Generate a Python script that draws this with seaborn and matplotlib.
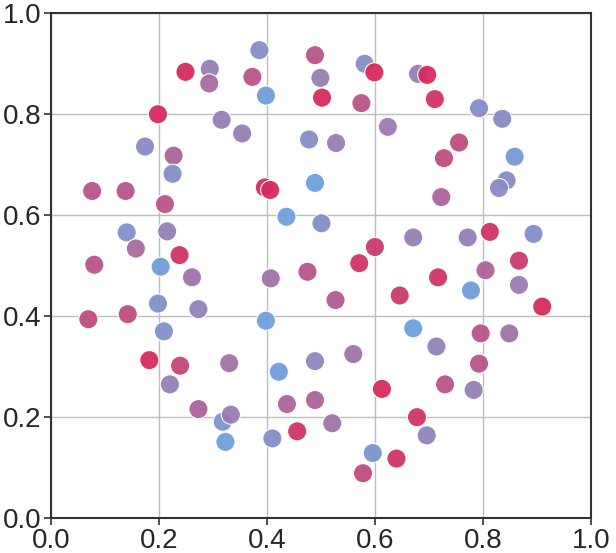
import matplotlib
matplotlib.use("Agg")
import matplotlib.pyplot as plt
from matplotlib.colors import LinearSegmentedColormap
import seaborn as sns
import pandas as pd

# point positions
x = [0.386, 0.489, 0.249, 0.294, 0.293, 0.373, 0.499, 0.398, 0.502, 0.198,
     0.316, 0.354, 0.478, 0.528, 0.174, 0.227, 0.225, 0.076, 0.138, 0.396,
     0.406, 0.489, 0.211, 0.436, 0.501, 0.140, 0.215, 0.157, 0.238, 0.080,
     0.203, 0.261, 0.475, 0.581, 0.599, 0.680, 0.697, 0.575, 0.711, 0.793,
     0.836, 0.624, 0.756, 0.728, 0.859, 0.844, 0.830, 0.723, 0.671, 0.772,
     0.813, 0.894, 0.600, 0.571, 0.867, 0.805, 0.717, 0.867, 0.778, 0.527,
     0.646, 0.910, 0.671, 0.796, 0.849, 0.714, 0.489, 0.560, 0.793, 0.613,
     0.730, 0.783, 0.489, 0.678, 0.521, 0.696, 0.596, 0.640, 0.578, 0.407,
     0.198, 0.273, 0.069, 0.142, 0.398, 0.209, 0.182, 0.239, 0.330, 0.422,
     0.220, 0.437, 0.273, 0.318, 0.333, 0.456, 0.323, 0.410]
y = [0.927, 0.917, 0.884, 0.890, 0.861, 0.874, 0.872, 0.837, 0.833, 0.800,
     0.789, 0.762, 0.750, 0.743, 0.736, 0.718, 0.682, 0.648, 0.648, 0.655,
     0.650, 0.664, 0.622, 0.597, 0.584, 0.566, 0.568, 0.534, 0.521, 0.502,
     0.498, 0.477, 0.488, 0.900, 0.883, 0.880, 0.878, 0.822, 0.830, 0.812,
     0.791, 0.775, 0.744, 0.713, 0.716, 0.669, 0.654, 0.636, 0.556, 0.556,
     0.567, 0.563, 0.537, 0.505, 0.510, 0.491, 0.477, 0.462, 0.451, 0.432,
     0.441, 0.419, 0.376, 0.366, 0.366, 0.340, 0.311, 0.325, 0.306, 0.256,
     0.265, 0.254, 0.234, 0.200, 0.188, 0.164, 0.129, 0.118, 0.089, 0.475,
     0.425, 0.414, 0.394, 0.404, 0.391, 0.370, 0.313, 0.302, 0.307, 0.290,
     0.265, 0.226, 0.216, 0.191, 0.205, 0.172, 0.151, 0.158]
# colour value per point, 0 = blue, 1 = red
c = [0.25, 0.75, 1.00, 0.45, 0.60, 0.75, 0.45, 0.05, 1.00, 1.00,
     0.45, 0.45, 0.25, 0.45, 0.30, 0.65, 0.25, 0.75, 0.75, 1.00,
     1.00, 0.00, 0.75, 0.00, 0.25, 0.20, 0.45, 0.60, 0.95, 0.75,
     0.05, 0.55, 0.75, 0.25, 1.00, 0.45, 1.00, 0.75, 0.95, 0.25,
     0.30, 0.50, 0.80, 0.80, 0.10, 0.30, 0.30, 0.65, 0.45, 0.45,
     0.95, 0.25, 0.90, 0.95, 0.90, 0.65, 0.95, 0.50, 0.05, 0.70,
     0.90, 1.00, 0.00, 0.75, 0.55, 0.40, 0.35, 0.55, 0.75, 1.00,
     0.75, 0.45, 0.65, 0.95, 0.55, 0.40, 0.15, 0.95, 0.80, 0.55,
     0.20, 0.40, 0.80, 0.80, 0.00, 0.20, 1.00, 0.85, 0.55, 0.05,
     0.45, 0.65, 0.65, 0.15, 0.50, 0.95, 0.00, 0.25]

df = pd.DataFrame({"x": x, "y": y, "c": c})
cmap = LinearSegmentedColormap.from_list(
    "bluered", ["#6fa0dc", "#9a7cb2", "#d62c5e"])

sns.set_style("whitegrid")
plt.rcParams["font.family"] = ["Liberation Sans", "DejaVu Sans"]

fig = plt.figure(figsize=(6.16, 5.53), dpi=100)
ax = fig.add_axes([0.083, 0.063, 0.876, 0.913])
sns.scatterplot(data=df, x="x", y="y", hue="c", palette=cmap,
                hue_norm=(0, 1), s=190, edgecolor="white", linewidth=0.8,
                alpha=0.95, legend=False, ax=ax)

ax.set_xlim(0, 1)
ax.set_ylim(0, 1)
ticks = [0.0, 0.2, 0.4, 0.6, 0.8, 1.0]
ax.set_xticks(ticks)
ax.set_yticks(ticks)
ax.set_xticklabels([f"{t:.1f}" for t in ticks])
ax.set_yticklabels([f"{t:.1f}" for t in ticks])
ax.set_xlabel("")
ax.set_ylabel("")
ax.grid(True, color="#bdbdbd", linewidth=1.0)
ax.tick_params(axis="both", labelsize=20, length=5, width=1.2,
               color="#333333", direction="out", pad=2,
               bottom=True, left=True)
for side in ["left", "bottom", "right", "top"]:
    ax.spines[side].set_visible(True)
    ax.spines[side].set_color("#333333")
    ax.spines[side].set_linewidth(1.5)

fig.savefig("out.png", dpi=100)
